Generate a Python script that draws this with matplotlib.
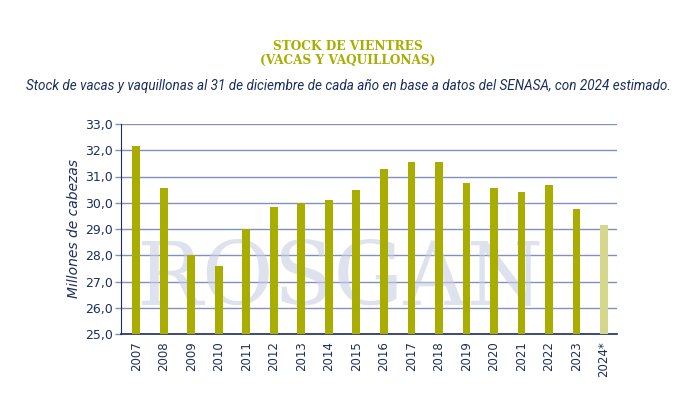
import matplotlib
matplotlib.use("Agg")
import matplotlib.pyplot as plt
from matplotlib.ticker import FuncFormatter

# ====== Datos ======
anios = ['2007', '2008', '2009', '2010', '2011', '2012', '2013', '2014', '2015',
         '2016', '2017', '2018', '2019', '2020', '2021', '2022', '2023', '2024*']
stock = [32.15, 30.55, 28.0, 27.6, 29.0, 29.83, 30.0, 30.12, 30.5,
         31.28, 31.55, 31.55, 30.77, 30.56, 30.42, 30.66, 29.75, 29.14]
estimado = [False] * 17 + [True]

verde = '#a8ad00'
verde_claro = '#d5d88c'
azul = '#1b2e5e'
grid_col = '#8390bd'

fig = plt.figure(figsize=(6.96, 4.08), dpi=100)
ax = fig.add_axes([121 / 696, 1 - 334 / 408, (617 - 121) / 696, (334 - 124) / 408])

x = list(range(len(anios)))
colores = [verde_claro if e else verde for e in estimado]
ax.bar(x, [v - 25 for v in stock], bottom=25, width=0.28, color=colores, zorder=3)

ax.set_ylim(25, 33)
ax.set_xlim(-0.55, len(anios) - 0.53)
ax.set_yticks(range(25, 34))
ax.yaxis.set_major_formatter(FuncFormatter(lambda v, p: f'{v:.1f}'.replace('.', ',')))
ax.set_xticks(x)
ax.set_xticklabels(anios, rotation=90)

ax.grid(axis='y', color=grid_col, linewidth=1.0, zorder=1)
for s in ['top', 'right']:
    ax.spines[s].set_visible(False)
ax.spines['left'].set_color(azul)
ax.spines['bottom'].set_color(azul)
ax.spines['bottom'].set_linewidth(1.2)
ax.tick_params(axis='y', colors=azul, labelsize=9, length=4, width=1, color=grid_col, pad=2)
ax.tick_params(axis='x', colors=azul, labelsize=8.5, length=0, pad=5)
for t in ax.get_yticklabels() + ax.get_xticklabels():
    t.set_color(azul)

ax.set_ylabel('Millones de cabezas', color=azul, fontsize=10, style='italic', labelpad=3)

# marca de agua
ax.text(0.03, 0.14, 'ROSGAN', transform=ax.transAxes, fontsize=63,
        family='DejaVu Serif', color='#c9cde3', alpha=0.6, zorder=2)

# ====== Títulos ======
fig.text(0.5, 1 - 46 / 408, 'STOCK DE VIENTRES', ha='center', va='center',
         fontsize=8.7, fontweight='bold', family='DejaVu Serif', color=verde)
fig.text(0.5, 1 - 60 / 408, '(VACAS Y VAQUILLONAS)', ha='center', va='center',
         fontsize=8.7, fontweight='bold', family='DejaVu Serif', color=verde)
fig.text(0.5, 1 - 86 / 408,
         'Stock de vacas y vaquillonas al 31 de diciembre de cada año en base a datos del SENASA, con 2024 estimado.',
         ha='center', va='center', fontsize=9.75, style='italic', family='Roboto', color=azul)

fig.savefig('out.png', dpi=100)
